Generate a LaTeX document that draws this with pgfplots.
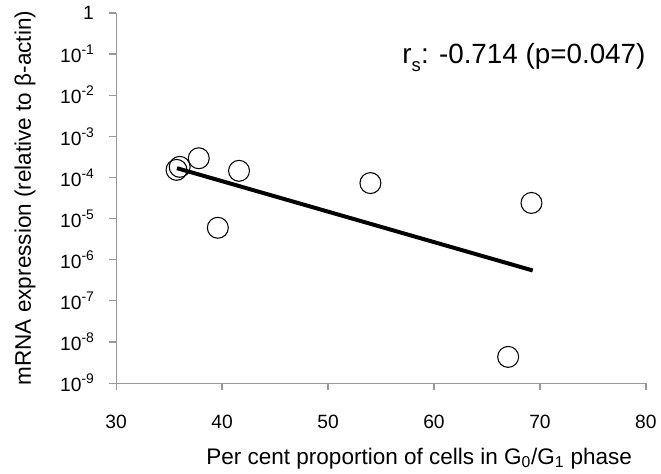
\documentclass[border=0pt]{standalone}
\usepackage{fontspec}
\setmainfont{Liberation Sans}
\usepackage{pgfplots}
\pgfplotsset{compat=1.18}
\definecolor{axgray}{HTML}{999999}
\newcommand{\tsup}[1]{\raisebox{0.42em}{\fontsize{10.5}{12}\selectfont #1}}

\begin{document}
\begin{tikzpicture}
\begin{axis}[
    scale only axis,
    width=400pt, height=279.5pt,
    ymode=log,
    xmin=30, xmax=80,
    ymin=1e-9, ymax=1,
    xtick={30,40,50,60,70,80},
    ytick={1e-9,1e-8,1e-7,1e-6,1e-5,1e-4,1e-3,1e-2,1e-1,1},
    yticklabels={10\tsup{-9},10\tsup{-8},10\tsup{-7},10\tsup{-6},10\tsup{-5},10\tsup{-4},10\tsup{-3},10\tsup{-2},10\tsup{-1},1},
    yminorticks=false,
    axis lines=left,
    axis line style={axgray, -, line width=0.9pt},
    tick style={axgray, line width=0.9pt},
    tick align=outside,
    major tick length=5.25pt,
    /pgf/number format/assume math mode=true,
    tick label style={font=\fontsize{14.5}{17}\selectfont, black},
    xticklabel style={yshift=-15pt},
    yticklabel style={xshift=-8pt},
    clip=false,
    xlabel={Per cent proportion of cells in G\textsubscript{0}/G\textsubscript{1} phase},
    ylabel={mRNA expression (relative to β-actin)},
    label style={font=\fontsize{17}{20}\selectfont},
    xlabel style={at={(rel axis cs:0.572,-0.204)}, anchor=center},
    ylabel style={at={(rel axis cs:-0.172,0.5)}, anchor=center, rotate=0},
]
\addplot[only marks, mark=o, mark size=7.9pt, mark options={line width=0.8pt, black}] coordinates {
    (35.7,1.53e-4) (36.0,1.81e-4) (37.8,2.93e-4) (39.6,5.98e-6)
    (41.6,1.45e-4) (54.0,7.3e-5) (67.0,4.34e-9) (69.2,2.4e-5)
};
\addplot[black, line width=3pt] coordinates {
    (35.74,1.68e-4) (69.32,5.47e-7)
};
\node[anchor=east, font=\fontsize{21}{24}\selectfont] at (rel axis cs:1.008,0.879)
    {r\raisebox{-0.3em}{\fontsize{14}{16}\selectfont s}: -0.714 (p=0.047)};
\path (rel axis cs:-0.2192,-0.2423) rectangle (rel axis cs:1.0193,1.0349);
\end{axis}
\end{tikzpicture}
\end{document}
